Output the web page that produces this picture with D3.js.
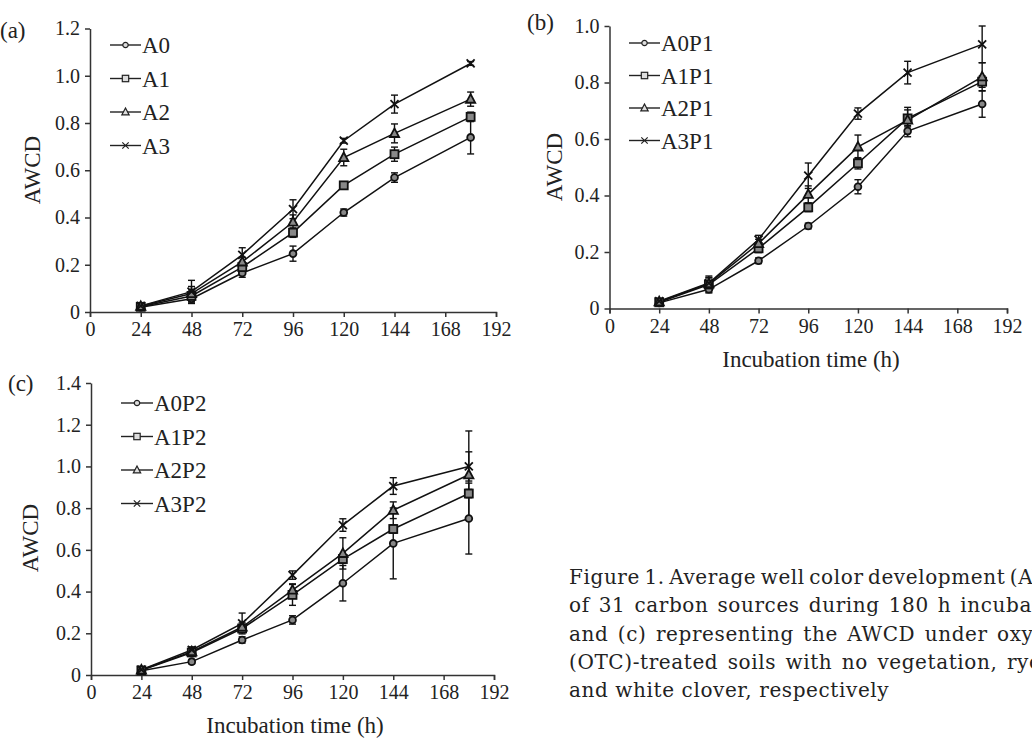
<!DOCTYPE html>
<html>
<head>
<meta charset="utf-8">
<script src="https://cdn.jsdelivr.net/npm/d3@7"></script>
<style>
  body { margin: 0; background: #fff; overflow: hidden; }
  svg { display: block; }
</style>
</head>
<body>
<div class="js-figure"></div>
<script>
'use strict';

// incubation times (h) and axis ticks
const hours = [24, 48, 72, 96, 120, 144, 180];
const xTicks = [0, 24, 48, 72, 96, 120, 144, 168, 192];
const yTicksA = [0, 0.2, 0.4, 0.6, 0.8, 1.0, 1.2];
const yTicksB = [0, 0.2, 0.4, 0.6, 0.8, 1.0];
const yTicksC = [0, 0.2, 0.4, 0.6, 0.8, 1.0, 1.2, 1.4];

// panel (a)
const namesA = ['A0', 'A1', 'A2', 'A3'];
const a0 = [0.020, 0.056, 0.165, 0.247, 0.421, 0.569, 0.739];
const a1 = [0.022, 0.068, 0.190, 0.336, 0.536, 0.668, 0.826];
const a2 = [0.024, 0.078, 0.212, 0.381, 0.654, 0.756, 0.901];
const a3 = [0.026, 0.086, 0.242, 0.435, 0.725, 0.880, 1.052];
const a0Err = [0.005, 0.020, 0.018, 0.032, 0.015, 0.020, 0.070];
const a1Err = [0.005, 0.025, 0.015, 0.020, 0.012, 0.030, 0.020];
const a2Err = [0.005, 0.030, 0.020, 0.030, 0.035, 0.040, 0.030];
const a3Err = [0.005, 0.048, 0.030, 0.040, 0.010, 0.038, 0.008];

// panel (b)
const namesB = ['A0P1', 'A1P1', 'A2P1', 'A3P1'];
const b0 = [0.020, 0.068, 0.169, 0.292, 0.431, 0.628, 0.724];
const b1 = [0.022, 0.085, 0.213, 0.358, 0.514, 0.673, 0.803];
const b2 = [0.024, 0.088, 0.230, 0.404, 0.572, 0.667, 0.820];
const b3 = [0.026, 0.090, 0.244, 0.470, 0.690, 0.835, 0.935];
const b0Err = [0.005, 0.010, 0.010, 0.010, 0.025, 0.020, 0.047];
const b1Err = [0.005, 0.030, 0.015, 0.015, 0.020, 0.030, 0.020];
const b2Err = [0.005, 0.020, 0.015, 0.030, 0.042, 0.045, 0.050];
const b3Err = [0.005, 0.020, 0.015, 0.045, 0.020, 0.040, 0.065];

// panel (c)
const namesC = ['A0P2', 'A1P2', 'A2P2', 'A3P2'];
const c0 = [0.020, 0.064, 0.168, 0.264, 0.440, 0.631, 0.750];
const c1 = [0.022, 0.108, 0.223, 0.384, 0.556, 0.700, 0.870];
const c2 = [0.024, 0.112, 0.230, 0.407, 0.583, 0.790, 0.960];
const c3 = [0.026, 0.120, 0.247, 0.479, 0.719, 0.906, 1.000];
const c0Err = [0.005, 0.010, 0.015, 0.020, 0.085, 0.170, 0.170];
const c1Err = [0.005, 0.010, 0.020, 0.050, 0.020, 0.020, 0.020];
const c2Err = [0.005, 0.010, 0.020, 0.030, 0.075, 0.040, 0.210];
const c3Err = [0.005, 0.015, 0.050, 0.020, 0.030, 0.040, 0.070];

// caption runs past the right edge, as in the source page
const captionLines = [
    'Figure 1. Average well color development (AWCD)',
    'of 31 carbon sources during 180 h incubation, with (a), (b)',
    'and (c) representing the AWCD under oxytetracycline',
    '(OTC)-treated soils with no vegetation, ryegrass',
    'and white clover, respectively'
];
// part of each justified line that is visible before the page edge
const captionVisible = [
    'Figure 1. Average well color development (A',
    'of 31 carbon sources during 180 h incuba',
    'and (c) representing the AWCD under ox',
    '(OTC)-treated soils with no vegetation, r',
    null
];

const ink = '#222';
const font = '"Liberation Serif", serif';

const svg = d3.select('.js-figure')
    .append('svg')
    .attr('width', 1032)
    .attr('height', 740);

// marker shapes, one per series
const markers = [
    g => g.append('circle').attr('r', 3.4),
    g => g.append('rect').attr('x', -4).attr('y', -4).attr('width', 8).attr('height', 8),
    g => g.append('path').attr('d', 'M0,-5L4.6,3.6L-4.6,3.6Z'),
    g => g.append('path').attr('d', 'M-4,-4L4,4M-4,4L4,-4')
];

const panels = [
    {
        tag: '(a)', tagPos: [0, 38], left: 90, right: 496, top: 28.5, bottom: 312,
        yMax: 1.2, yTicks: yTicksA, names: namesA,
        values: [a0, a1, a2, a3], errors: [a0Err, a1Err, a2Err, a3Err],
        yTitle: [40, 170], xTitle: null,
        legend: { x1: 110, x2: 141, y: 45, dy: 33.5 }
    },
    {
        tag: '(b)', tagPos: [527, 30], left: 609.5, right: 1007, top: 26, bottom: 308.5,
        yMax: 1.0, yTicks: yTicksB, names: namesB,
        values: [b0, b1, b2, b3], errors: [b0Err, b1Err, b2Err, b3Err],
        yTitle: [562, 167], xTitle: [811, 367],
        legend: { x1: 629, x2: 660, y: 43, dy: 32.5 }
    },
    {
        tag: '(c)', tagPos: [8, 391], left: 91, right: 494, top: 383, bottom: 675,
        yMax: 1.4, yTicks: yTicksC, names: namesC,
        values: [c0, c1, c2, c3], errors: [c0Err, c1Err, c2Err, c3Err],
        yTitle: [38, 538], xTitle: [295, 733],
        legend: { x1: 121, x2: 153, y: 403, dy: 33.5 }
    }
];

panels.forEach(p => {
    const graph = svg.append('g');

    // scales
    const x = d3.scaleLinear().domain([0, 192]).range([p.left, p.right]);
    const y = d3.scaleLinear().domain([0, p.yMax]).range([p.bottom, p.top]);

    // axes
    const xAxis = d3.axisBottom(x).tickValues(xTicks).tickSize(5).tickSizeOuter(5).tickPadding(5);
    const yAxis = d3.axisLeft(y).tickValues(p.yTicks).tickSize(5).tickSizeOuter(0).tickPadding(5)
        .tickFormat(d => d === 0 ? '0' : d3.format('.1f')(d));

    const xAxisGroup = graph.append('g')
        .attr('transform', `translate(0, ${p.bottom})`)
        .call(xAxis);
    const yAxisGroup = graph.append('g')
        .attr('transform', `translate(${p.left}, 0)`)
        .call(yAxis);

    [xAxisGroup, yAxisGroup].forEach(ax => {
        ax.selectAll('path, line').attr('stroke', '#333').attr('stroke-width', 1.5);
        ax.selectAll('text')
            .attr('fill', ink)
            .style('font-family', font)
            .style('font-size', '20px');
    });

    // series lines
    const line = d3.line()
        .x((d, i) => x(hours[i]))
        .y(d => y(d));

    p.values.forEach(vals => {
        graph.append('path')
            .datum(vals)
            .attr('fill', 'none')
            .attr('stroke', '#111')
            .attr('stroke-width', 1.5)
            .attr('d', line);
    });

    // error bars
    p.values.forEach((vals, s) => {
        const bars = graph.append('g').attr('stroke', '#111').attr('stroke-width', 1.4);
        vals.forEach((v, i) => {
            const e = p.errors[s][i];
            const cx = x(hours[i]);
            bars.append('line').attr('x1', cx).attr('x2', cx).attr('y1', y(v - e)).attr('y2', y(v + e));
            [v - e, v + e].forEach(t => {
                bars.append('line').attr('x1', cx - 3.5).attr('x2', cx + 3.5).attr('y1', y(t)).attr('y2', y(t));
            });
        });
    });

    // markers
    p.values.forEach((vals, s) => {
        vals.forEach((v, i) => {
            const m = graph.append('g')
                .attr('transform', `translate(${x(hours[i])}, ${y(v)})`)
                .attr('fill', '#888')
                .attr('stroke', '#111')
                .attr('stroke-width', 1.8);
            markers[s](m);
        });
    });

    // legend
    p.names.forEach((name, s) => {
        const ly = p.legend.y + s * p.legend.dy;
        const lg = graph.append('g');
        lg.append('line')
            .attr('x1', p.legend.x1).attr('x2', p.legend.x2)
            .attr('y1', ly).attr('y2', ly)
            .attr('stroke', '#222').attr('stroke-width', 1.4);
        const m = lg.append('g')
            .attr('transform', `translate(${(p.legend.x1 + p.legend.x2) / 2}, ${ly}) scale(0.8)`)
            .attr('fill', '#ddd').attr('stroke', '#222').attr('stroke-width', 1.5);
        markers[s](m);
        lg.append('text')
            .attr('x', p.legend.x2 + 1)
            .attr('y', ly + 8)
            .attr('fill', ink)
            .style('font-family', font)
            .style('font-size', '23px')
            .text(name);
    });

    // panel tag and titles
    graph.append('text')
        .attr('x', p.tagPos[0]).attr('y', p.tagPos[1])
        .attr('fill', ink)
        .style('font-family', font).style('font-size', '23px')
        .text(p.tag);

    graph.append('text')
        .attr('transform', `translate(${p.yTitle[0]}, ${p.yTitle[1]}) rotate(-90)`)
        .attr('text-anchor', 'middle')
        .attr('fill', ink)
        .style('font-family', font).style('font-size', '23px')
        .text('AWCD');

    if (p.xTitle) {
        graph.append('text')
            .attr('x', p.xTitle[0]).attr('y', p.xTitle[1])
            .attr('text-anchor', 'middle')
            .attr('fill', ink)
            .style('font-family', font).style('font-size', '23px')
            .text('Incubation time (h)');
    }
});

// caption: justified lines, word spacing nudged (within limits) so each breaks off near the page edge
const capLeft = 569;
const capEnds = [1013, 1032, 1032, 1032];

const caption = svg.append('g')
    .style('font-family', '"DejaVu Serif", serif')
    .style('font-size', '20px')
    .style('letter-spacing', '0.6px')
    .attr('fill', ink);

captionLines.forEach((txt, i) => {
    const t = caption.append('text')
        .attr('x', capLeft)
        .attr('y', 584 + i * 28.3);
    const vis = captionVisible[i];
    if (vis) {
        t.text(vis);
        const w = t.node().getComputedTextLength();
        const gaps = vis.split(' ').length - 1;
        const spacing = Math.max(-2.5, Math.min(2.5, (capEnds[i] - capLeft - w) / gaps));
        t.style('word-spacing', `${spacing.toFixed(2)}px`);
    }
    t.text(txt);
});
</script>
</body>
</html>
